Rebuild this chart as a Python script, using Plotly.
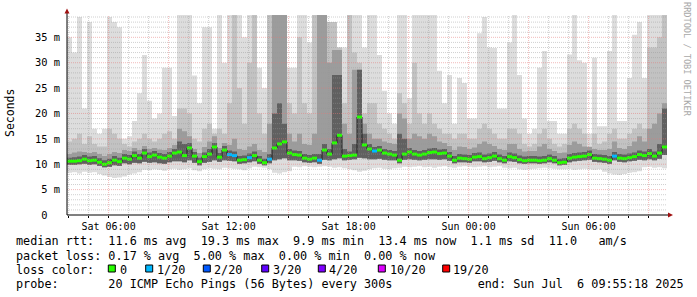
import plotly.graph_objects as go
import pandas as pd

start = "2025-07-05 03:55:18"
end = "2025-07-06 09:55:18"
step = "15min"

# median rtt (ms) per 15-minute column
median = [10.6,10.6,10.7,11.0,10.7,10.8,10.4,10.0,10.3,10.8,
          10.5,11.2,11.0,11.7,11.2,12.2,11.5,11.8,11.4,11.2,
          11.6,12.2,12.4,11.7,13.2,11.6,10.5,11.5,12.0,13.4,
          11.4,12.8,11.9,11.7,10.8,10.9,11.3,11.7,10.8,10.3,
          11.0,13.2,14.0,14.4,12.2,11.9,11.8,11.2,11.0,11.2,
          10.8,12.8,12.0,14.2,15.7,11.6,11.7,11.8,19.3,13.8,
          13.0,12.6,12.8,12.2,12.0,11.8,10.8,12.0,12.4,12.0,
          11.8,12.0,12.3,12.4,12.1,12.2,11.6,10.8,11.2,11.1,
          11.0,11.4,11.5,11.1,11.3,11.6,11.1,10.8,11.5,11.3,
          10.9,10.7,10.8,10.8,10.7,10.8,11.1,10.8,10.3,10.4,
          11.2,11.4,11.5,11.6,11.9,11.2,11.1,11.0,10.8,11.6,
          11.2,11.1,11.3,11.5,11.9,11.7,12.1,11.6,12.2,13.4]

# lost pings out of 20
loss = [0,0,0,0,0,0,0,0,0,0,
        0,0,0,0,0,0,0,0,0,0,
        0,0,0,0,0,0,0,0,0,0,
        0,0,1,1,0,0,1,0,0,0,
        1,0,0,0,0,0,0,0,0,0,
        1,0,0,0,0,0,0,0,0,0,
        0,1,0,0,0,0,0,0,0,0,
        0,0,0,0,0,0,0,0,0,0,
        0,0,0,0,0,0,0,0,0,0,
        0,0,0,0,0,0,0,0,0,0,
        0,0,0,0,0,0,0,0,0,1,
        0,0,0,0,0,0,0,0,0,0]

# smoke: fastest ping
ping_min = [8.3,8.4,8.2,8.5,8.3,8.4,8.1,7.8,7.5,7.3,
            7.4,7.6,8.0,8.2,8.4,8.9,8.8,9.0,8.9,8.7,
            9.0,9.1,8.9,9.0,9.2,8.8,8.6,9.0,9.2,9.1,
            9.0,9.3,9.2,9.1,9.0,8.8,9.2,9.5,9.4,9.3,
            9.0,8.3,8.2,8.4,8.6,9.5,9.4,9.6,9.5,9.4,
            9.5,9.6,9.5,9.3,9.4,9.2,9.0,8.8,8.5,8.7,
            9.0,9.2,9.3,9.1,9.0,9.2,9.3,9.5,9.4,9.5,
            9.6,9.4,9.5,9.3,9.5,9.6,9.4,9.3,9.5,9.6,
            9.5,9.4,9.5,9.6,9.4,9.5,9.6,9.3,9.2,9.3,
            9.0,8.9,9.0,9.1,9.2,9.3,9.2,9.1,9.0,9.0,
            9.1,8.9,9.0,9.1,9.0,8.9,9.0,8.5,8.2,8.0,
            7.9,8.1,8.3,8.4,8.6,9.4,9.5,9.3,9.4,9.2]

# smoke: lower edge of the denser pings
ping_low = [9.9,9.9,10.0,10.1,9.9,10.0,9.7,9.4,9.5,9.8,
            9.7,10.2,10.0,10.3,10.2,10.5,10.3,10.4,10.2,10.1,
            10.4,10.6,10.6,10.4,10.8,10.3,9.8,10.3,10.5,10.8,
            10.5,10.8,10.7,10.6,10.1,10.2,10.4,10.6,10.1,9.8,
            10.2,10.8,11.0,11.2,10.8,10.8,10.7,10.4,10.3,10.4,
            10.1,10.9,10.8,11.0,11.2,10.8,10.9,11.0,11.3,11.2,
            11.0,11.0,11.1,10.9,10.8,10.8,10.2,10.9,11.0,10.9,
            10.8,10.9,11.0,11.0,10.9,11.0,10.7,10.2,10.4,10.4,
            10.3,10.6,10.6,10.4,10.5,10.7,10.4,10.2,10.6,10.5,
            10.2,10.1,10.2,10.2,10.1,10.2,10.4,10.2,9.8,9.9,
            10.4,10.6,10.7,10.8,10.9,10.5,10.4,10.3,10.1,10.8,
            10.5,10.4,10.6,10.7,10.9,10.8,11.0,10.8,11.1,11.8]

# smoke: upper edges, from the densest core outwards
ping_core = [11.3,11.4,11.5,11.8,11.5,11.6,11.2,10.8,11.1,11.6,
             11.3,12.0,11.8,12.5,12.0,13.0,12.3,12.6,12.2,12.0,
             12.4,13.0,14.5,14.0,14.2,12.4,11.3,12.3,13.0,14.2,
             12.2,13.6,12.7,12.5,11.6,11.7,12.1,12.5,11.6,11.1,
             12.0,20.0,22.0,18.0,13.0,12.7,12.6,12.0,11.8,12.0,
             12.0,14.0,13.0,27.6,27.6,13.0,12.5,14.0,28.6,16.0,
             14.0,13.4,13.6,13.0,12.8,12.6,16.0,15.0,13.2,12.8,
             12.6,12.8,13.1,13.2,12.9,13.0,12.4,11.6,12.0,11.9,
             11.8,12.2,12.3,11.9,12.1,12.4,11.9,11.6,12.3,12.1,
             11.7,11.5,11.6,11.6,11.5,11.6,11.9,11.6,11.1,11.2,
             12.0,12.2,12.3,12.4,12.7,12.0,11.9,11.8,11.6,12.4,
             12.0,11.9,12.1,12.3,12.7,12.5,13.0,12.5,14.0,21.0]

ping_mid = [12.0,12.3,12.5,12.4,12.2,12.4,12.0,11.6,12.0,12.4,
            12.2,12.8,12.6,13.2,12.8,13.6,13.0,13.2,12.9,12.8,
            13.2,13.8,17.0,16.5,15.5,13.0,12.2,13.4,14.5,15.5,
            13.2,14.2,13.8,15.0,13.0,12.8,13.5,14.0,12.8,12.4,
            18.0,40,40,40,16.0,14.5,16.0,14.0,13.8,16.0,
            40,40,30,32.5,32.5,18.0,16.0,28.6,28.6,18.0,
            16.0,15.0,15.0,14.5,14.2,14.0,20.0,19.0,15.0,16.0,
            15.5,15.0,16.0,15.5,14.5,14.2,13.6,12.8,13.5,13.4,
            13.0,13.3,14.0,14.5,14.0,13.6,13.0,12.8,14.0,14.0,
            13.0,12.5,12.6,12.6,13.5,14.0,13.0,12.6,12.2,12.3,
            13.8,14.5,14.0,13.5,13.4,13.0,12.8,12.8,13.0,14.5,
            13.2,13.0,13.6,14.5,15.5,14.5,17.0,18.0,20.0,22.0]

ping_high = [14.5,15,16,14,15.5,14,13.5,13.5,17,16,
             15,14,13.5,14.5,15,16,15,14.5,15,16,
             16.5,15,21,21,20,15,14.5,17,18,16,
             17,16,22,40,25,18,30,40,20,16,
             40,40,40,40,22,20,35,22,20,40,
             40,40,38,38,33,22,40,32,30,20,
             22,22,18,17,16,15,24,22,18,30,
             20,18,20,18,17,16,16,15,16,16,
             15,15,17,18,17,16,15,15,17,17,
             16,14,13.5,14,16,17,15,14,13.5,14,
             17,18,17,16,13.5,16,14,14.5,16,17,
             15,15,16,17,18,17,33,33,35,40]

ping_max = [35,32,39,21,38,17,16,17,39,38,
            37,15,15.5,18.5,24,31.5,22.5,19,20,29,
            29,19.5,40,40,40,27.5,22,37,37,17,
            40,30,40,40,40,35,40,40,29,25,
            40,40,40,40,29,29,40,40,34,40,
            40,40,38,38,33,33,40,40,40,33,
            40,40,31.5,24.5,20,18,40,40,23,40,
            40,40,40,40,28.4,22,27.6,18,27,26,
            19,19,35.8,39,33,32.9,21,21,34,40,
            27.6,19,16,17,29,32.3,18.5,18.5,16,16,
            31.6,40,30.5,30,16,31,17.5,17.5,32.3,40,
            18.5,18.5,27,35.5,38,27,40,40,40,40]

y_ticks = [0, 5, 10, 15, 20, 25, 30, 35]
y_tick_text = ["0\u00a0\u00a0", "5 m", "10 m", "15 m", "20 m", "25 m", "30 m", "35 m"]

loss_labels = ["0", "1/20", "2/20", "3/20", "4/20", "10/20", "19/20"]
loss_colors = ["#26ff00", "#00b8ff", "#0059ff", "#5e00ff", "#7e00ff", "#dd00ff", "#ff0000"]

line_rtt = "median rtt:  11.6 ms avg  19.3 ms max  9.9 ms min  13.4 ms now  1.1 ms sd  11.0   am/s"
line_loss = "packet loss: 0.17 % avg  5.00 % max  0.00 % min  0.00 % now"
line_color = "loss color:"
line_probe = "probe:       20 ICMP Echo Pings (56 Bytes) every 300s            end: Sun Jul  6 09:55:18 2025"

# ---------------------------------------------------------------
MONO = "DejaVu Sans Mono"
L, T, W, H = 67, 15, 600, 200
Y_TOP = 39.4
LEG = 11.8

def px(x):
    return (x - L) / W

def py(y):
    return (T + H - y) / H

n = len(median)
dt = pd.Timedelta(step)
times = pd.date_range(start, periods=n, freq=step)
edges = list(times) + [times[-1] + dt]

def ext(a):
    return list(a) + [a[-1]]

fig = go.Figure()

bands = [(ping_min, ping_max, "#dddddd"),
         (ping_low, ping_high, "#c2c2c2"),
         (ping_low, ping_mid, "#9c9c9c"),
         (ping_low, ping_core, "#606060")]
for lower, upper, col in bands:
    fig.add_trace(go.Scatter(x=edges, y=ext(lower), mode="lines",
                             line=dict(width=0, shape="hv"), hoverinfo="skip", showlegend=False))
    fig.add_trace(go.Scatter(x=edges, y=ext(upper), mode="lines", fill="tonexty",
                             fillcolor=col, line=dict(width=0, shape="hv"),
                             hoverinfo="skip", showlegend=False))

# thin dark median connector
fig.add_trace(go.Scatter(x=edges, y=ext(median), mode="lines",
                         line=dict(color="#202020", width=1, shape="hv"),
                         hoverinfo="skip", showlegend=False))

# coloured median segments by loss
seg = {}
for i in range(n):
    c = loss_colors[min(loss[i], len(loss_colors) - 1)]
    xs, ys = seg.setdefault(c, ([], []))
    xs += [times[i], times[i] + dt, None]
    ys += [median[i], median[i], None]
for c, (xs, ys) in seg.items():
    fig.add_trace(go.Scatter(x=xs, y=ys, mode="lines", line=dict(color=c, width=3),
                             hoverinfo="skip", showlegend=False))

shapes = []
minor_col = "rgba(150,150,150,0.45)"
major_col = "rgba(230,120,120,0.5)"
for v in range(1, 40):
    if v > Y_TOP:
        break
    shapes.append(dict(type="line", xref="paper", yref="y", x0=0, x1=1, y0=v, y1=v,
                       line=dict(color=major_col if v % 5 == 0 else minor_col, width=1, dash="1px,1px"),
                       layer="above"))
t = pd.Timestamp("2025-07-05 04:00:00")
while t < pd.Timestamp(end):
    major = (t.hour % 3 == 0)
    shapes.append(dict(type="line", xref="x", yref="paper", x0=t, x1=t, y0=0, y1=1,
                       line=dict(color=major_col if major else minor_col, width=1, dash="1px,1px"),
                       layer="above"))
    t += pd.Timedelta("1h")

# axes with arrows
shapes.append(dict(type="line", xref="paper", yref="paper", x0=0, x1=0, y0=0, y1=py(12),
                   line=dict(color="black", width=1), layer="above"))
shapes.append(dict(type="line", xref="paper", yref="paper", x0=0, x1=px(669), y0=0, y1=0,
                   line=dict(color="black", width=1), layer="above"))
shapes.append(dict(type="path", xref="paper", yref="paper",
                   path=f"M {px(64.5)} {py(13.5)} L {px(69.5)} {py(13.5)} L {px(67)} {py(8.5)} Z",
                   fillcolor="#a01010", line=dict(width=0), layer="above"))
shapes.append(dict(type="path", xref="paper", yref="paper",
                   path=f"M {px(668)} {py(212.5)} L {px(668)} {py(217.5)} L {px(673)} {py(215)} Z",
                   fillcolor="#a01010", line=dict(width=0), layer="above"))

annotations = []

def txt(x, y, s, size=LEG, color="black", anchor="left", angle=0):
    annotations.append(dict(x=px(x), y=py(y), xref="paper", yref="paper",
                            text=s.replace(" ", "\u00a0"),
                            showarrow=False, xanchor=anchor, yanchor="middle",
                            font=dict(family=MONO, size=size, color=color),
                            borderpad=0, borderwidth=0, textangle=angle))

txt(16, 241, line_rtt)
txt(16, 255.7, line_loss)
txt(16, 269.5, line_color)
box_x = [108.3, 145.7, 203.3, 261.7, 318.3, 378.3, 442.7]
lab_x = [120, 156.7, 214.3, 272.7, 329.3, 390, 453.3]
for bx, lx, lab, col in zip(box_x, lab_x, loss_labels, loss_colors):
    shapes.append(dict(type="rect", xref="paper", yref="paper",
                       x0=px(bx), x1=px(bx + 7), y0=py(272), y1=py(265),
                       fillcolor=col, line=dict(color="black", width=1)))
    txt(lx, 269.5, lab)
txt(16, 283.7, line_probe)

txt(10, 113, "Seconds", size=11.5, anchor="center", angle=-90)
txt(687, 59, "RRDTOOL / TOBI OETIKER", size=8.6, color="#a8a8a8", anchor="center", angle=90)

fig.update_layout(
    width=697, height=297,
    margin=dict(l=L, r=697 - L - W, t=T, b=297 - T - H, pad=0),
    paper_bgcolor="white", plot_bgcolor="white",
    showlegend=False,
    shapes=shapes, annotations=annotations,
    xaxis=dict(type="date", range=[start, end], showgrid=False, zeroline=False, showline=False,
               tick0="2025-07-05 00:00:00", dtick=6 * 3600 * 1000, tickformat="%a %H:%M",
               ticks="outside", ticklen=2, tickcolor="black",
               tickfont=dict(family=MONO, size=10, color="black"),
               minor=dict(dtick=3600 * 1000, ticks="outside", ticklen=2, tickcolor="black", showgrid=False)),
    yaxis=dict(range=[0, Y_TOP], showgrid=False, zeroline=False, showline=False,
               tickvals=y_ticks, ticktext=y_tick_text, ticks="", ticklabelstandoff=6,
               tickfont=dict(family=MONO, size=10.4, color="black")),
)

fig.write_html("out.html")
